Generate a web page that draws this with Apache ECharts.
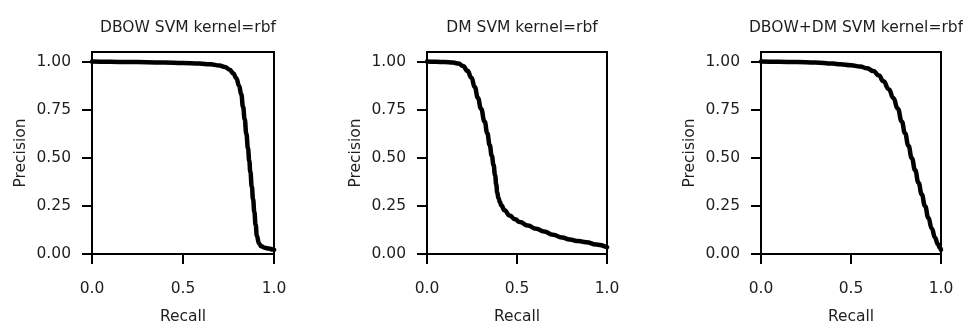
<!DOCTYPE html>
<html>
<head>
<meta charset="utf-8">
<script src="https://cdn.jsdelivr.net/npm/echarts@6/dist/echarts.min.js"></script>
<style>
html,body{margin:0;padding:0;background:#fff;}
#chart{width:963px;height:326px;}
</style>
</head>
<body>
<div id="chart"></div>
<script>
// ---- Data ----
const titles = ["DBOW SVM kernel=rbf", "DM SVM kernel=rbf", "DBOW+DM SVM kernel=rbf"];
const xTicks = [0, 0.5, 1.0];
const yTicks = [0, 0.25, 0.5, 0.75, 1.0];

const dbowRecall = [0, 0.1, 0.2, 0.3, 0.4, 0.5, 0.59, 0.65, 0.70, 0.73, 0.757, 0.775, 0.793, 0.808, 0.82, 0.83, 0.839, 0.848, 0.857, 0.864, 0.87, 0.878, 0.885, 0.892, 0.899, 0.906, 0.917, 0.93, 0.949, 0.97, 0.995, 1.0];
const dbowPrecision = [1.0, 0.999, 0.998, 0.997, 0.995, 0.993, 0.99, 0.986, 0.98, 0.972, 0.958, 0.94, 0.914, 0.875, 0.83, 0.765, 0.7, 0.625, 0.55, 0.485, 0.427, 0.35, 0.285, 0.218, 0.152, 0.095, 0.055, 0.04, 0.033, 0.028, 0.024, 0.022];

const dmRecall = [0, 0.05, 0.1, 0.144, 0.175, 0.2, 0.225, 0.247, 0.265, 0.283, 0.3, 0.32, 0.335, 0.348, 0.36, 0.37, 0.378, 0.385, 0.39, 0.397, 0.405, 0.413, 0.43, 0.459, 0.49, 0.515, 0.56, 0.607, 0.65, 0.7, 0.75, 0.793, 0.84, 0.885, 0.94, 1.0];
const dmPrecision = [1.0, 0.999, 0.998, 0.995, 0.99, 0.977, 0.952, 0.916, 0.868, 0.811, 0.755, 0.689, 0.628, 0.567, 0.51, 0.462, 0.41, 0.36, 0.32, 0.29, 0.27, 0.253, 0.228, 0.2, 0.18, 0.166, 0.148, 0.131, 0.117, 0.1, 0.086, 0.075, 0.067, 0.061, 0.05, 0.035];

const bothRecall = [0, 0.1, 0.2, 0.3, 0.4, 0.44, 0.5, 0.55, 0.59, 0.624, 0.655, 0.68, 0.71, 0.735, 0.76, 0.782, 0.8, 0.819, 0.838, 0.856, 0.875, 0.893, 0.911, 0.93, 0.948, 0.967, 0.982, 0.994, 1.0];
const bothPrecision = [1.0, 0.999, 0.998, 0.996, 0.99, 0.986, 0.981, 0.975, 0.965, 0.951, 0.928, 0.898, 0.857, 0.811, 0.755, 0.689, 0.628, 0.563, 0.498, 0.436, 0.371, 0.31, 0.25, 0.188, 0.134, 0.085, 0.052, 0.032, 0.022];

const curves = [[dbowRecall, dbowPrecision], [dmRecall, dmPrecision], [bothRecall, bothPrecision]];

// ---- Layout ----
const FONT = 'DejaVu Sans';
const TXT = '#1e1e1e';
const FS = 15.5;
const grids = [
  {left: 92, width: 182},
  {left: 427, width: 180},
  {left: 761, width: 180}
];
const gridTop = 52, gridHeight = 202;

const option = {
  animation: false,
  backgroundColor: '#fff',
  title: titles.map((t, i) => ({
    text: t,
    left: grids[i].left + grids[i].width / 2,
    top: 15,
    textAlign: 'center',
    textStyle: {fontFamily: FONT, fontSize: FS, fontWeight: 'normal', color: TXT}
  })),
  grid: grids.map(g => ({
    left: g.left, width: g.width, top: gridTop, height: gridHeight,
    outerBoundsMode: 'none', containLabel: false,
    show: true, borderColor: '#000', borderWidth: 2, backgroundColor: 'transparent'
  })),
  xAxis: grids.map((g, i) => ({
    type: 'value', gridIndex: i, min: 0, max: 1, interval: 0.5,
    name: 'Recall', nameLocation: 'middle', nameGap: 55,
    nameTextStyle: {fontFamily: FONT, fontSize: FS, color: TXT},
    axisLine: {show: true, onZero: false, lineStyle: {color: '#000', width: 2}},
    axisTick: {show: true, inside: false, length: 10, lineStyle: {color: '#000', width: 2}, customValues: xTicks},
    axisLabel: {fontFamily: FONT, fontSize: FS, color: TXT, margin: 27, customValues: xTicks,
      formatter: v => v.toFixed(1)},
    splitLine: {show: false}
  })),
  yAxis: grids.map((g, i) => ({
    type: 'value', gridIndex: i, min: 0, max: 1.05,
    name: 'Precision', nameLocation: 'middle', nameGap: 63,
    nameTextStyle: {fontFamily: FONT, fontSize: FS, color: TXT},
    axisLine: {show: true, onZero: false, lineStyle: {color: '#000', width: 2}},
    axisTick: {show: true, inside: false, length: 10, lineStyle: {color: '#000', width: 2}, customValues: yTicks},
    axisLabel: {fontFamily: FONT, fontSize: FS, color: TXT, margin: 21, customValues: yTicks,
      formatter: v => v.toFixed(2)},
    splitLine: {show: false}
  })),
  series: curves.map((c, i) => ({
    type: 'line', xAxisIndex: i, yAxisIndex: i,
    data: c[0].map((x, k) => [x, c[1][k]]),
    showSymbol: false, smooth: 0.5, smoothMonotone: 'x',
    lineStyle: {color: '#000', width: 4.5, cap: 'round', join: 'round'},
    clip: true
  }))
};

const chart = echarts.init(document.getElementById('chart'), null, {renderer: 'canvas'});
chart.setOption(option);
</script>
</body>
</html>
